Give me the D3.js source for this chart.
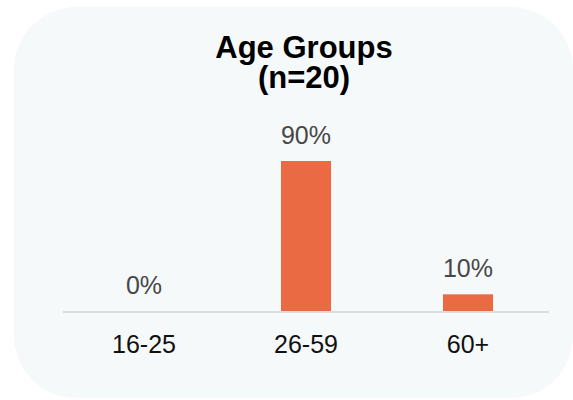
<!DOCTYPE html>
<html>
<head>
<meta charset="utf-8">
<script src="https://cdn.jsdelivr.net/npm/d3@7"></script>
<style>
  body { margin: 0; background: #fff; }
  svg { display: block; font-family: "Liberation Sans", Arial, sans-serif; }
</style>
</head>
<body>
<svg width="573" height="400"></svg>
<script>
// chart data
var categories = ["16-25", "26-59", "60+"];
var percents = [0, 90, 10];
var titleLines = ["Age Groups", "(n=20)"];

var svg = d3.select("svg");

// card background
svg.append("rect")
    .attr("x", 14).attr("y", 7)
    .attr("width", 559).attr("height", 391)
    .attr("rx", 62).attr("ry", 62)
    .attr("fill", "#f6f9fa");

var baseY = 311;

var x = d3.scaleBand()
    .domain(categories)
    .range([63, 549])
    .paddingInner(0.691)
    .paddingOuter(0.3455);

var y = d3.scaleLinear()
    .domain([0, 90])
    .range([baseY, 161]);

// title, two lines
svg.append("g")
  .selectAll("text")
  .data(titleLines)
  .enter().append("text")
    .attr("x", 304)
    .attr("y", function(d, i){ return 58 + i * 30; })
    .attr("text-anchor", "middle")
    .style("font-size", "31px").style("font-weight", "bold")
    .attr("fill", "#000")
    .text(function(d){ return d; });

var rows = categories.map(function(c, i){ return {cat: c, v: percents[i]}; });

// bars
svg.append("g")
  .selectAll("rect")
  .data(rows)
  .enter().append("rect")
    .attr("x", function(d){ return x(d.cat); })
    .attr("y", function(d){ return y(d.v); })
    .attr("width", x.bandwidth())
    .attr("height", function(d){ return baseY - y(d.v); })
    .attr("fill", "#e96a43");

// baseline
svg.append("line")
    .attr("x1", x.range()[0]).attr("x2", x.range()[1])
    .attr("y1", baseY + 1).attr("y2", baseY + 1)
    .attr("stroke", "#dcdde0").attr("stroke-width", 2);

// value labels
svg.append("g")
  .selectAll("text")
  .data(rows)
  .enter().append("text")
    .attr("x", function(d){ return x(d.cat) + x.bandwidth() / 2; })
    .attr("y", function(d){ return y(d.v) - 17; })
    .attr("text-anchor", "middle")
    .style("font-size", "25px")
    .attr("fill", "#474747")
    .text(function(d){ return d.v + "%"; });

// category axis
var axis = svg.append("g")
    .attr("transform", "translate(0," + (baseY + 1) + ")")
    .call(d3.axisBottom(x).tickSize(0));
axis.select(".domain").remove();
axis.selectAll("text")
    .attr("dy", 0)
    .attr("y", 41)
    .style("font-size", "25px")
    .style("font-family", "Liberation Sans, Arial, sans-serif")
    .attr("fill", "#111");
</script>
</body>
</html>
